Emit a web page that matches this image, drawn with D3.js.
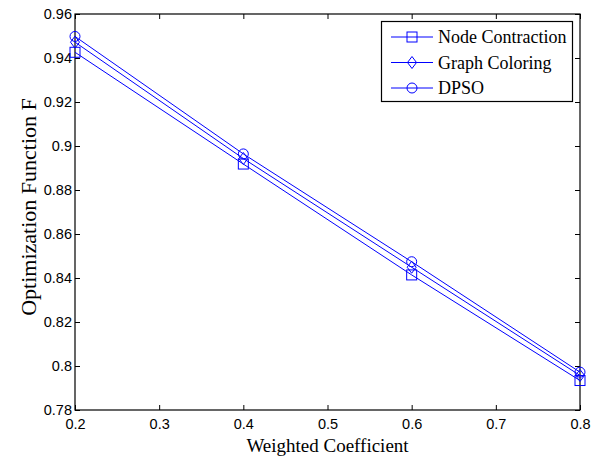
<!DOCTYPE html>
<html><head><meta charset="utf-8">
<script src="https://cdn.jsdelivr.net/npm/d3@7"></script>
<style>body{margin:0;background:#fff}</style>
</head><body>
<script>
const xValues = [0.2, 0.4, 0.6, 0.8];
const nodeContraction = [0.9426, 0.8918, 0.8414, 0.7934];
const graphColoring = [0.9472, 0.8943, 0.8449, 0.7957];
const dpso = [0.9498, 0.8964, 0.8474, 0.7972];
const seriesNames = ["Node Contraction", "Graph Coloring", "DPSO"];
const markerTypes = ["square", "diamond", "circle"];
const xTicks = [0.2, 0.3, 0.4, 0.5, 0.6, 0.7, 0.8];
const yTicks = [0.78, 0.8, 0.82, 0.84, 0.86, 0.88, 0.9, 0.92, 0.94, 0.96];

const W = 599, H = 461;
const m = {left: 75, right: 19, top: 14, bottom: 51};
const svg = d3.select("body").append("svg").attr("width", W).attr("height", H);
const x = d3.scaleLinear().domain([0.2, 0.8]).range([m.left, W - m.right]);
const y = d3.scaleLinear().domain([0.78, 0.96]).range([H - m.bottom, m.top]);

const fmt = d => String(+d.toFixed(2));
const tickFont = "'Liberation Sans', Arial, sans-serif";
const serif = "'Liberation Serif', 'Times New Roman', serif";

function styleAxis(g) {
  g.select(".domain").remove();
  g.selectAll("line").attr("stroke", "#000");
  g.selectAll("text").style("font-family", tickFont).style("font-size", "14.5px").attr("fill", "#000");
}
const gx = svg.append("g").attr("transform", `translate(0,${H - m.bottom})`)
  .call(d3.axisBottom(x).tickValues(xTicks).tickFormat(fmt).tickSizeInner(-5).tickSizeOuter(0).tickPadding(9));
styleAxis(gx);
const gxt = svg.append("g").attr("transform", `translate(0,${m.top})`)
  .call(d3.axisTop(x).tickValues(xTicks).tickFormat("").tickSizeInner(-5).tickSizeOuter(0));
styleAxis(gxt);
const gy = svg.append("g").attr("transform", `translate(${m.left},0)`)
  .call(d3.axisLeft(y).tickValues(yTicks).tickFormat(fmt).tickSizeInner(-5).tickSizeOuter(0).tickPadding(3));
styleAxis(gy);
const gyr = svg.append("g").attr("transform", `translate(${W - m.right},0)`)
  .call(d3.axisRight(y).tickValues(yTicks).tickFormat("").tickSizeInner(-5).tickSizeOuter(0));
styleAxis(gyr);

svg.append("rect").attr("x", m.left).attr("y", m.top)
  .attr("width", W - m.left - m.right).attr("height", H - m.top - m.bottom)
  .attr("fill", "none").attr("stroke", "#000").attr("stroke-width", 1.2);

const blue = "#0000ff";
function drawMarker(g, type, cx, cy) {
  if (type === "square") {
    g.append("rect").attr("x", cx - 5).attr("y", cy - 5).attr("width", 10).attr("height", 10)
      .attr("fill", "none").attr("stroke", blue);
  } else if (type === "diamond") {
    g.append("path").attr("d", `M${cx},${cy - 6}L${cx + 4.5},${cy}L${cx},${cy + 6}L${cx - 4.5},${cy}Z`)
      .attr("fill", "none").attr("stroke", blue);
  } else {
    g.append("circle").attr("cx", cx).attr("cy", cy).attr("r", 5)
      .attr("fill", "none").attr("stroke", blue);
  }
}

const allSeries = [nodeContraction, graphColoring, dpso];
const line = d3.line().x((d, i) => x(xValues[i])).y(d => y(d));
allSeries.forEach((vals, k) => {
  const g = svg.append("g");
  g.append("path").attr("d", line(vals)).attr("fill", "none").attr("stroke", blue).attr("stroke-width", 1);
  vals.forEach((v, i) => drawMarker(g, markerTypes[k], x(xValues[i]), y(v)));
});

// legend
const lg = svg.append("g");
lg.append("rect").attr("x", 381.5).attr("y", 21.5).attr("width", 191).attr("height", 80)
  .attr("fill", "#fff").attr("stroke", "#000").attr("stroke-width", 1.2);
seriesNames.forEach((name, k) => {
  const yy = 37 + k * 25.5;
  lg.append("line").attr("x1", 391).attr("x2", 433).attr("y1", yy).attr("y2", yy).attr("stroke", blue);
  drawMarker(lg, markerTypes[k], 412, yy);
  lg.append("text").attr("x", 438).attr("y", yy + 6).text(name)
    .style("font-family", serif).style("font-size", "18px").attr("fill", "#000");
});

svg.append("text").attr("x", (m.left + W - m.right) / 2).attr("y", 452).attr("text-anchor", "middle")
  .style("font-family", serif).style("font-size", "19px").text("Weighted Coefficient");
svg.append("text").attr("transform", `translate(36,207) rotate(-90)`)
  .attr("text-anchor", "middle").style("font-family", serif).style("font-size", "22px").text("Optimization Function F");
</script>
</body></html>
